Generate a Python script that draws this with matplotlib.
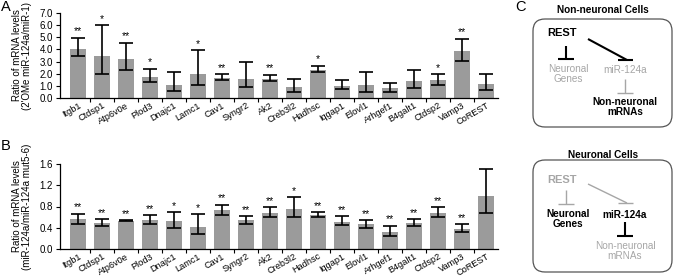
import matplotlib
matplotlib.use("Agg")
import matplotlib.pyplot as plt
import numpy as np
from matplotlib.patches import FancyBboxPatch

genes = ["Itgb1", "Ctdsp1", "Atp6v0e", "Plod3", "Dnajc1", "Lamc1", "Cav1", "Syngr2",
         "Ak2", "Creb3l2", "Hadhsc", "Iqgap1", "Elovl1", "Arhgef1", "B4galt1", "Ctdsp2",
         "Vamp3", "CoREST"]

a_vals = [4.07, 3.43, 3.21, 1.76, 1.10, 2.00, 1.65, 1.60, 1.60, 0.88, 2.34, 1.02, 1.07,
          0.80, 1.37, 1.51, 3.90, 1.18]
a_hi = [4.95, 6.00, 4.53, 2.39, 2.14, 3.93, 1.95, 2.97, 1.90, 1.54, 2.64, 1.48, 2.14,
        1.24, 2.34, 1.95, 4.89, 1.98]
a_lo = [3.43, 2.00, 2.28, 1.35, 0.55, 1.04, 1.46, 0.88, 1.40, 0.50, 2.12, 0.71, 0.50,
        0.47, 0.80, 1.10, 3.08, 0.63]
a_sig = ["**", "*", "**", "*", "", "*", "**", "", "**", "", "*", "", "", "", "", "*", "**", ""]

b_vals = [0.565, 0.496, 0.533, 0.546, 0.520, 0.408, 0.734, 0.546, 0.678, 0.760, 0.646,
          0.514, 0.470, 0.326, 0.496, 0.678, 0.376, 1.004]
b_hi = [0.665, 0.565, 0.546, 0.640, 0.696, 0.659, 0.834, 0.615, 0.790, 0.970, 0.690,
        0.615, 0.540, 0.440, 0.565, 0.790, 0.464, 1.500]
b_lo = [0.470, 0.427, 0.520, 0.477, 0.395, 0.282, 0.646, 0.477, 0.596, 0.600, 0.596,
        0.445, 0.395, 0.245, 0.433, 0.596, 0.314, 0.678]
b_sig = ["**", "**", "**", "**", "*", "*", "**", "**", "**", "*", "**", "**", "**", "**",
         "**", "**", "**", ""]

a_ticks = [0.0, 1.0, 2.0, 3.0, 4.0, 5.0, 6.0, 7.0]
b_ticks = [0.0, 0.4, 0.8, 1.2, 1.6]

W, H = 675, 276
fig = plt.figure(figsize=(W / 100, H / 100), dpi=100)
plt.rcParams['font.family'] = ['Liberation Sans', 'DejaVu Sans']

BAR = "#9b9b9b"
TFS = 6.6


def px_axes(left, top, right, bottom):
    return fig.add_axes([left / W, 1 - bottom / H, (right - left) / W, (bottom - top) / H])


def draw_panel(ax, vals, hi, lo, sig, ticks, ymax, ylabel, star_off):
    x = np.arange(len(genes))
    vals = np.array(vals)
    yerr = np.vstack([vals - np.array(lo), np.array(hi) - vals])
    ax.bar(x, vals, width=0.7, color=BAR, zorder=1)
    ax.errorbar(x, vals, yerr=yerr, fmt="none", ecolor="black", elinewidth=1.2,
                capsize=5, capthick=1.2, zorder=2)
    for xi, h, s in zip(x, hi, sig):
        if s:
            ax.text(xi, h + star_off, s, ha="center", va="bottom", fontsize=7.5)
    ax.set_xlim(-0.75, len(genes) - 0.5)
    ax.set_ylim(0, ymax)
    ax.set_yticks(ticks)
    ax.set_yticklabels([f"{t:.1f}" for t in ticks], fontsize=7)
    ax.set_xticks(x)
    ax.set_xticklabels(genes, rotation=30, ha="right", rotation_mode="anchor", fontsize=TFS)
    ax.tick_params(axis="x", which="major", length=0, pad=2)
    ax.set_xticks(x[:-1] + 0.5, minor=True)
    ax.tick_params(axis="x", which="minor", length=3, width=0.8)
    ax.tick_params(axis="y", length=3, width=0.8, pad=2)
    for s in ("top", "right"):
        ax.spines[s].set_visible(False)
    ax.spines["left"].set_linewidth(0.9)
    ax.spines["bottom"].set_linewidth(0.9)
    ax.set_ylabel(ylabel, fontsize=7.0, linespacing=1.0)
    ax.yaxis.set_label_coords(-0.063, 0.5)


axA = px_axes(60, 13, 498, 98)
draw_panel(axA, a_vals, a_hi, a_lo, a_sig, a_ticks, 7.0,
           "Ratio of mRNA levels\n(2'OMe miR-124a/miR-1)", 0.12)
axB = px_axes(60, 164, 498, 249)
draw_panel(axB, b_vals, b_hi, b_lo, b_sig, b_ticks, 1.6,
           "Ratio of mRNA levels\n(miR-124a/miR-124a mut5-6)", 0.025)

fig.text(1 / W, 1 - 7 / H, "A", fontsize=10.5, va="center", ha="left")
fig.text(1 / W, 1 - 146 / H, "B", fontsize=10.5, va="center", ha="left")

# Panel C diagram in pixel coordinates
axC = fig.add_axes([0, 0, 1, 1])
axC.set_xlim(0, W)
axC.set_ylim(H, 0)
axC.axis("off")

GREY = "#a6a6a6"
axC.text(520, 7, "C", fontsize=10.5, ha="center", va="center")


def box(top, bottom):
    p = FancyBboxPatch((533, top), 139, bottom - top,
                       boxstyle="round,pad=0,rounding_size=12", fill=False,
                       edgecolor="#555555", linewidth=0.9)
    axC.add_patch(p)


def tee(x, y0, y1, color, lw):
    axC.plot([x, x], [y0, y1], color=color, lw=lw, solid_capstyle="butt")
    axC.plot([x - 8, x + 8], [y1, y1], color=color, lw=lw, solid_capstyle="butt")


def diag(x0, y0, x1, y1, color, lw):
    axC.plot([x0, x1], [y0, y1], color=color, lw=lw, solid_capstyle="butt")
    axC.plot([x1 - 9, x1 + 6], [y1, y1], color=color, lw=lw, solid_capstyle="butt")


fs = 7.2
# Non-neuronal cells
axC.text(603, 10, "Non-neuronal Cells", fontsize=fs, ha="center", va="center", weight="bold")
box(19, 127)
axC.text(562, 33, "REST", fontsize=8, ha="center", va="center", weight="bold")
tee(566, 46, 59, "black", 1.5)
diag(588, 39, 627, 60, "black", 1.5)
axC.text(568, 74, "Neuronal\nGenes", fontsize=fs, ha="center", va="center", color=GREY,
         linespacing=1.0)
axC.text(625, 70, "miR-124a", fontsize=fs, ha="center", va="center", color=GREY)
tee(625, 79, 93, GREY, 1.0)
axC.text(625, 107, "Non-neuronal\nmRNAs", fontsize=fs, ha="center", va="center",
         weight="bold", linespacing=1.0)

# Neuronal cells
axC.text(603, 155, "Neuronal Cells", fontsize=fs, ha="center", va="center", weight="bold")
box(160, 272)
axC.text(562, 180, "REST", fontsize=8, ha="center", va="center", weight="bold", color=GREY)
tee(566, 190, 204, GREY, 1.0)
diag(588, 184, 627, 203, GREY, 1.0)
axC.text(568, 219, "Neuronal\nGenes", fontsize=fs, ha="center", va="center", weight="bold",
         linespacing=1.0)
axC.text(625, 215, "miR-124a", fontsize=fs, ha="center", va="center", weight="bold")
tee(625, 222, 236, "black", 1.5)
axC.text(625, 251, "Non-neuronal\nmRNAs", fontsize=fs, ha="center", va="center", color=GREY,
         linespacing=1.0)

fig.savefig("out.png", dpi=100)
